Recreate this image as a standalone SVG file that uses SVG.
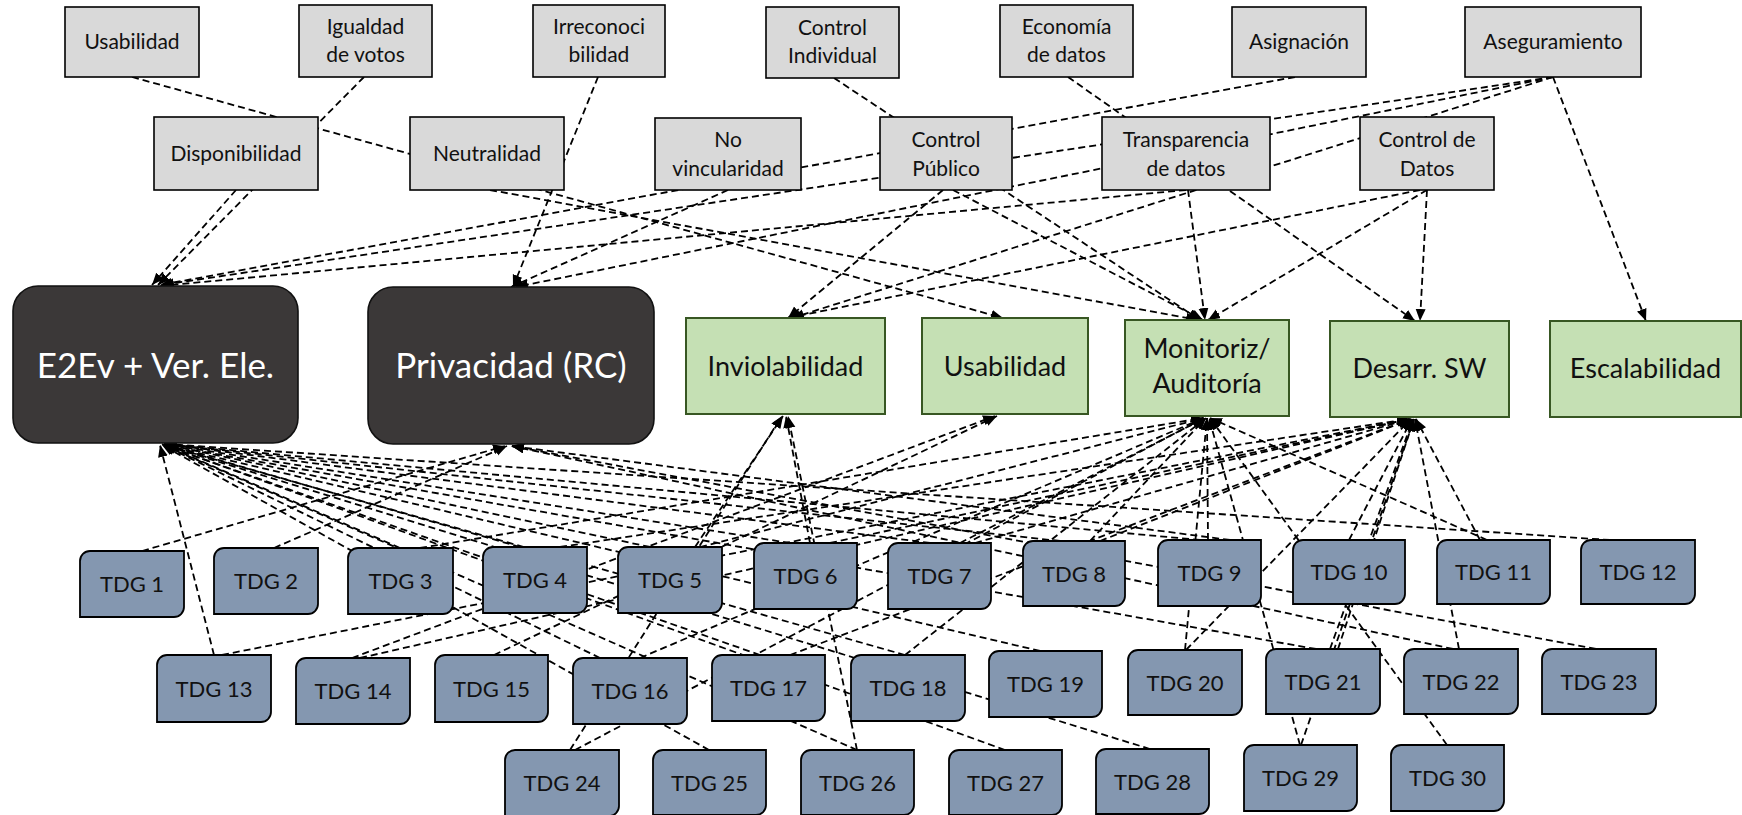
<svg xmlns="http://www.w3.org/2000/svg" width="1742" height="815" viewBox="0 0 1742 815">
<style>
.c{fill:none;stroke:#000;stroke-width:1.8;stroke-dasharray:7 4;marker-end:url(#ah)}
.g rect{fill:#D9D9D9;stroke:#000;stroke-width:1.6}
.k rect{fill:#3B3838;stroke:#111;stroke-width:1.6}
.v rect{fill:#C5E0B4;stroke:#385723;stroke-width:2}
.t path{fill:#8497B0;stroke:#000;stroke-width:1.8}
text{font-family:Lato,"Liberation Sans",sans-serif;text-anchor:middle;fill:#111}
.g text{font-size:21px}
.k text{font-size:35px;fill:#fff}
.v text{font-size:27px}
.t text{font-size:22px}
</style>
<defs>
<marker id="ah" markerUnits="userSpaceOnUse" markerWidth="13" markerHeight="11" refX="12" refY="5" orient="auto">
<path d="M0,0 L12,5 L0,10 z" fill="#000"/>
</marker>
</defs>
<rect width="1742" height="815" fill="#fff"/>
<g id="connectors">
<path class="c" d="M132,77 L1003,318"/>
<path class="c" d="M364,77 L158,285"/>
<path class="c" d="M236,190 L152,285"/>
<path class="c" d="M598,77 L513,287"/>
<path class="c" d="M834,78 L1200,320"/>
<path class="c" d="M1068,77 L1415,321"/>
<path class="c" d="M1295,77 L160,285"/>
<path class="c" d="M1553,77 L162,285"/>
<path class="c" d="M1553,77 L516,287"/>
<path class="c" d="M1553,77 L792,318"/>
<path class="c" d="M1553,77 L1646,321"/>
<path class="c" d="M1427,190 L1208,320"/>
<path class="c" d="M1427,190 L1420,321"/>
<path class="c" d="M1420,190 L788,318"/>
<path class="c" d="M943,190 L788,318"/>
<path class="c" d="M953,190 L1203,320"/>
<path class="c" d="M1188,190 L1205,320"/>
<path class="c" d="M1186,190 L160,286"/>
<path class="c" d="M728,190 L511,287"/>
<path class="c" d="M490,190 L1198,320"/>
<path class="c" d="M214,655 L160,445"/>
<path class="c" d="M400,548 L162,444"/>
<path class="c" d="M520,547 L163,444"/>
<path class="c" d="M650,547 L164,444"/>
<path class="c" d="M790,543 L164,444"/>
<path class="c" d="M930,543 L165,444"/>
<path class="c" d="M1060,541 L165,444"/>
<path class="c" d="M1200,540 L165,444"/>
<path class="c" d="M1610,540 L165,444"/>
<path class="c" d="M600,658 L163,445"/>
<path class="c" d="M760,655 L163,445"/>
<path class="c" d="M905,655 L164,445"/>
<path class="c" d="M1040,651 L164,445"/>
<path class="c" d="M1316,649 L165,445"/>
<path class="c" d="M709,750 L162,445"/>
<path class="c" d="M857,750 L163,445"/>
<path class="c" d="M1005,750 L164,445"/>
<path class="c" d="M1150,749 L164,445"/>
<path class="c" d="M142,551 L505,446"/>
<path class="c" d="M274,548 L507,446"/>
<path class="c" d="M1230,540 L511,446"/>
<path class="c" d="M1453,649 L512,446"/>
<path class="c" d="M1596,649 L512,446"/>
<path class="c" d="M695,547 L783,416"/>
<path class="c" d="M810,543 L786,416"/>
<path class="c" d="M857,750 L788,416"/>
<path class="c" d="M570,750 L782,416"/>
<path class="c" d="M352,658 L995,416"/>
<path class="c" d="M494,655 L997,416"/>
<path class="c" d="M420,548 L1203,418"/>
<path class="c" d="M700,547 L1204,418"/>
<path class="c" d="M960,543 L1205,418"/>
<path class="c" d="M1090,541 L1206,418"/>
<path class="c" d="M1208,540 L1207,418"/>
<path class="c" d="M640,658 L1204,418"/>
<path class="c" d="M905,655 L1206,418"/>
<path class="c" d="M1185,650 L1207,418"/>
<path class="c" d="M1300,745 L1209,418"/>
<path class="c" d="M1447,745 L1210,418"/>
<path class="c" d="M1487,540 L1210,418"/>
<path class="c" d="M575,750 L1204,418"/>
<path class="c" d="M560,547 L1409,419"/>
<path class="c" d="M830,543 L1410,419"/>
<path class="c" d="M975,543 L1410,419"/>
<path class="c" d="M1100,541 L1411,419"/>
<path class="c" d="M1349,540 L1412,419"/>
<path class="c" d="M1480,540 L1416,419"/>
<path class="c" d="M222,655 L1409,419"/>
<path class="c" d="M360,658 L1409,419"/>
<path class="c" d="M790,655 L1410,419"/>
<path class="c" d="M1186,650 L1411,419"/>
<path class="c" d="M1330,649 L1413,419"/>
<path class="c" d="M1338,649 L1414,419"/>
<path class="c" d="M1459,649 L1415,419"/>
<path class="c" d="M1301,745 L1414,419"/>
</g>
<g id="n-usabilidad-top" class="g"><rect x="65" y="7" width="134" height="70"/><text x="132" y="49">Usabilidad</text></g>
<g id="n-igualdad" class="g"><rect x="299" y="5" width="133" height="72"/><text x="365.5" y="34">Igualdad</text><text x="365.5" y="62">de votos</text></g>
<g id="n-irreconocibilidad" class="g"><rect x="533" y="5" width="132" height="72"/><text x="599" y="34">Irreconoci</text><text x="599" y="62">bilidad</text></g>
<g id="n-control-individual" class="g"><rect x="766" y="7" width="133" height="71"/><text x="832.5" y="35">Control</text><text x="832.5" y="63">Individual</text></g>
<g id="n-economia" class="g"><rect x="1000" y="5" width="133" height="72"/><text x="1066.5" y="34">Economía</text><text x="1066.5" y="62">de datos</text></g>
<g id="n-asignacion" class="g"><rect x="1232" y="7" width="134" height="70"/><text x="1299" y="49">Asignación</text></g>
<g id="n-aseguramiento" class="g"><rect x="1465" y="7" width="176" height="70"/><text x="1553" y="49">Aseguramiento</text></g>
<g id="n-disponibilidad" class="g"><rect x="154" y="117" width="164" height="73"/><text x="236" y="161">Disponibilidad</text></g>
<g id="n-neutralidad" class="g"><rect x="410" y="117" width="154" height="73"/><text x="487" y="161">Neutralidad</text></g>
<g id="n-no-vincularidad" class="g"><rect x="655" y="118" width="146" height="72"/><text x="728" y="147">No</text><text x="728" y="176">vincularidad</text></g>
<g id="n-control-publico" class="g"><rect x="880" y="117" width="132" height="73"/><text x="946" y="147">Control</text><text x="946" y="176">Público</text></g>
<g id="n-transparencia" class="g"><rect x="1102" y="117" width="168" height="73"/><text x="1186" y="147">Transparencia</text><text x="1186" y="176">de datos</text></g>
<g id="n-control-datos" class="g"><rect x="1360" y="117" width="134" height="73"/><text x="1427" y="147">Control de</text><text x="1427" y="176">Datos</text></g>
<g id="n-e2ev" class="k"><rect x="13" y="286" width="285" height="157" rx="25"/><text x="155.5" y="378">E2Ev + Ver. Ele.</text></g>
<g id="n-privacidad" class="k"><rect x="368" y="287" width="286" height="157" rx="25"/><text x="511" y="378">Privacidad (RC)</text></g>
<g id="n-inviolabilidad" class="v"><rect x="686" y="318" width="199" height="96"/><text x="785.5" y="376">Inviolabilidad</text></g>
<g id="n-usabilidad" class="v"><rect x="922" y="318" width="166" height="96"/><text x="1005" y="376">Usabilidad</text></g>
<g id="n-monitoriz" class="v"><rect x="1125" y="320" width="164" height="96"/><text x="1207" y="358">Monitoriz/</text><text x="1207" y="393">Auditoría</text></g>
<g id="n-desarr" class="v"><rect x="1330" y="321" width="179" height="96"/><text x="1419.5" y="378">Desarr. SW</text></g>
<g id="n-escalabilidad" class="v"><rect x="1550" y="321" width="191" height="96"/><text x="1645.5" y="378">Escalabilidad</text></g>
<g id="tdg1" class="t"><path d="M90,551 H184 V607 A10,10 0 0 1 174,617 H80 V561 A10,10 0 0 1 90,551 Z"/><text x="132" y="592">TDG 1</text></g>
<g id="tdg2" class="t"><path d="M224,548 H318 V604 A10,10 0 0 1 308,614 H214 V558 A10,10 0 0 1 224,548 Z"/><text x="266" y="589">TDG 2</text></g>
<g id="tdg3" class="t"><path d="M358,548 H453 V604 A10,10 0 0 1 443,614 H348 V558 A10,10 0 0 1 358,548 Z"/><text x="400.5" y="589">TDG 3</text></g>
<g id="tdg4" class="t"><path d="M493,547 H587 V603 A10,10 0 0 1 577,613 H483 V557 A10,10 0 0 1 493,547 Z"/><text x="535" y="588">TDG 4</text></g>
<g id="tdg5" class="t"><path d="M628,547 H722 V603 A10,10 0 0 1 712,613 H618 V557 A10,10 0 0 1 628,547 Z"/><text x="670" y="588">TDG 5</text></g>
<g id="tdg6" class="t"><path d="M764,543 H857 V599 A10,10 0 0 1 847,609 H754 V553 A10,10 0 0 1 764,543 Z"/><text x="805.5" y="584">TDG 6</text></g>
<g id="tdg7" class="t"><path d="M898,543 H991 V599 A10,10 0 0 1 981,609 H888 V553 A10,10 0 0 1 898,543 Z"/><text x="939.5" y="584">TDG 7</text></g>
<g id="tdg8" class="t"><path d="M1033,541 H1125 V596 A10,10 0 0 1 1115,606 H1023 V551 A10,10 0 0 1 1033,541 Z"/><text x="1074" y="581.5">TDG 8</text></g>
<g id="tdg9" class="t"><path d="M1168,540 H1261 V596 A10,10 0 0 1 1251,606 H1158 V550 A10,10 0 0 1 1168,540 Z"/><text x="1209.5" y="581">TDG 9</text></g>
<g id="tdg10" class="t"><path d="M1303,540 H1405 V594 A10,10 0 0 1 1395,604 H1293 V550 A10,10 0 0 1 1303,540 Z"/><text x="1349" y="580">TDG 10</text></g>
<g id="tdg11" class="t"><path d="M1447,540 H1550 V594 A10,10 0 0 1 1540,604 H1437 V550 A10,10 0 0 1 1447,540 Z"/><text x="1493.5" y="580">TDG 11</text></g>
<g id="tdg12" class="t"><path d="M1591,540 H1695 V594 A10,10 0 0 1 1685,604 H1581 V550 A10,10 0 0 1 1591,540 Z"/><text x="1638" y="580">TDG 12</text></g>
<g id="tdg13" class="t"><path d="M167,655 H271 V712 A10,10 0 0 1 261,722 H157 V665 A10,10 0 0 1 167,655 Z"/><text x="214" y="696.5">TDG 13</text></g>
<g id="tdg14" class="t"><path d="M306,658 H410 V714 A10,10 0 0 1 400,724 H296 V668 A10,10 0 0 1 306,658 Z"/><text x="353" y="699">TDG 14</text></g>
<g id="tdg15" class="t"><path d="M445,655 H548 V712 A10,10 0 0 1 538,722 H435 V665 A10,10 0 0 1 445,655 Z"/><text x="491.5" y="696.5">TDG 15</text></g>
<g id="tdg16" class="t"><path d="M583,658 H687 V714 A10,10 0 0 1 677,724 H573 V668 A10,10 0 0 1 583,658 Z"/><text x="630" y="699">TDG 16</text></g>
<g id="tdg17" class="t"><path d="M722,655 H825 V711 A10,10 0 0 1 815,721 H712 V665 A10,10 0 0 1 722,655 Z"/><text x="768.5" y="696">TDG 17</text></g>
<g id="tdg18" class="t"><path d="M861,655 H965 V711 A10,10 0 0 1 955,721 H851 V665 A10,10 0 0 1 861,655 Z"/><text x="908" y="696">TDG 18</text></g>
<g id="tdg19" class="t"><path d="M999,651 H1102 V707 A10,10 0 0 1 1092,717 H989 V661 A10,10 0 0 1 999,651 Z"/><text x="1045.5" y="692">TDG 19</text></g>
<g id="tdg20" class="t"><path d="M1138,650 H1242 V705 A10,10 0 0 1 1232,715 H1128 V660 A10,10 0 0 1 1138,650 Z"/><text x="1185" y="690.5">TDG 20</text></g>
<g id="tdg21" class="t"><path d="M1276,649 H1380 V704 A10,10 0 0 1 1370,714 H1266 V659 A10,10 0 0 1 1276,649 Z"/><text x="1323" y="689.5">TDG 21</text></g>
<g id="tdg22" class="t"><path d="M1414,649 H1518 V704 A10,10 0 0 1 1508,714 H1404 V659 A10,10 0 0 1 1414,649 Z"/><text x="1461" y="689.5">TDG 22</text></g>
<g id="tdg23" class="t"><path d="M1552,649 H1656 V704 A10,10 0 0 1 1646,714 H1542 V659 A10,10 0 0 1 1552,649 Z"/><text x="1599" y="689.5">TDG 23</text></g>
<g id="tdg24" class="t"><path d="M515,750 H619 V806 A10,10 0 0 1 609,816 H505 V760 A10,10 0 0 1 515,750 Z"/><text x="562" y="791">TDG 24</text></g>
<g id="tdg25" class="t"><path d="M663,750 H766 V805 A10,10 0 0 1 756,815 H653 V760 A10,10 0 0 1 663,750 Z"/><text x="709.5" y="790.5">TDG 25</text></g>
<g id="tdg26" class="t"><path d="M811,750 H914 V805 A10,10 0 0 1 904,815 H801 V760 A10,10 0 0 1 811,750 Z"/><text x="857.5" y="790.5">TDG 26</text></g>
<g id="tdg27" class="t"><path d="M959,750 H1062 V805 A10,10 0 0 1 1052,815 H949 V760 A10,10 0 0 1 959,750 Z"/><text x="1005.5" y="790.5">TDG 27</text></g>
<g id="tdg28" class="t"><path d="M1106,749 H1209 V804 A10,10 0 0 1 1199,814 H1096 V759 A10,10 0 0 1 1106,749 Z"/><text x="1152.5" y="789.5">TDG 28</text></g>
<g id="tdg29" class="t"><path d="M1254,745 H1357 V801 A10,10 0 0 1 1347,811 H1244 V755 A10,10 0 0 1 1254,745 Z"/><text x="1300.5" y="786">TDG 29</text></g>
<g id="tdg30" class="t"><path d="M1401,745 H1504 V801 A10,10 0 0 1 1494,811 H1391 V755 A10,10 0 0 1 1401,745 Z"/><text x="1447.5" y="786">TDG 30</text></g>
</svg>
